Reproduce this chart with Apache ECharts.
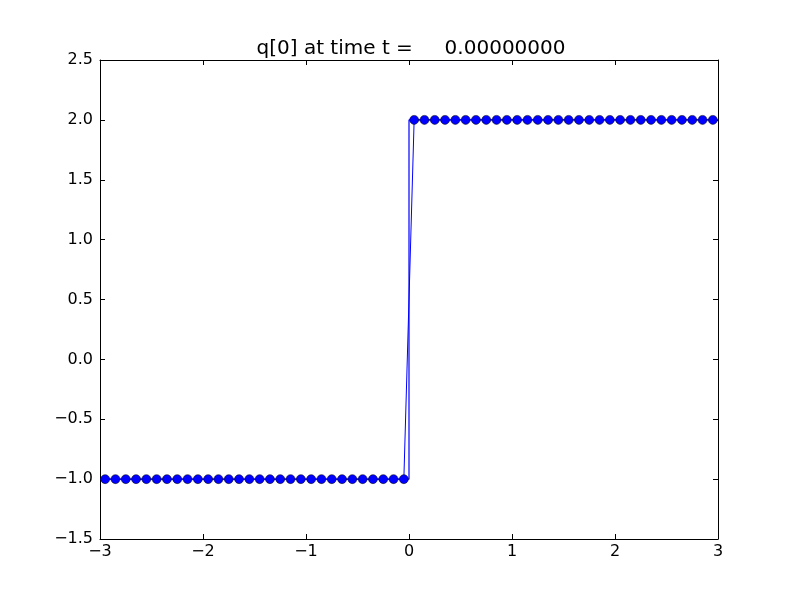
<!DOCTYPE html>
<html><head><meta charset="utf-8">
<script src="https://cdn.jsdelivr.net/npm/echarts@6/dist/echarts.min.js"></script>
<style>html,body{margin:0;padding:0;background:#fff}#c{width:800px;height:600px}</style>
</head><body><div id="c"></div>
<script>
const titleText = 'q[0] at time t =     0.00000000';
const xCells = [-2.95,-2.85,-2.75,-2.65,-2.55,-2.45,-2.35,-2.25,-2.15,-2.05,
  -1.95,-1.85,-1.75,-1.65,-1.55,-1.45,-1.35,-1.25,-1.15,-1.05,
  -0.95,-0.85,-0.75,-0.65,-0.55,-0.45,-0.35,-0.25,-0.15,-0.05,
  0.05,0.15,0.25,0.35,0.45,0.55,0.65,0.75,0.85,0.95,
  1.05,1.15,1.25,1.35,1.45,1.55,1.65,1.75,1.85,1.95,
  2.05,2.15,2.25,2.35,2.45,2.55,2.65,2.75,2.85,2.95];
const qValues = [-1,-1,-1,-1,-1,-1,-1,-1,-1,-1,
  -1,-1,-1,-1,-1,-1,-1,-1,-1,-1,
  -1,-1,-1,-1,-1,-1,-1,-1,-1,-1,
  2,2,2,2,2,2,2,2,2,2,
  2,2,2,2,2,2,2,2,2,2,
  2,2,2,2,2,2,2,2,2,2];
const trueX = [-3, 0, 0, 3];
const trueY = [-1, -1, 2, 2];
const xTicks = [-3,-2,-1,0,1,2,3];
const yTicks = [-1.5,-1.0,-0.5,0.0,0.5,1.0,1.5,2.0,2.5];

const fmt = v => String(v).replace('-', '\u2212');
const fmtY = v => (v < 0 ? '\u2212' : '') + Math.abs(v).toFixed(1);
const font = 'DejaVu Sans';
const axisCommon = {
  axisLine: {show: true, onZero: false, lineStyle: {color: '#000', width: 1}},
  axisTick: {show: true, inside: true, length: 5, lineStyle: {color: '#000'}},
  splitLine: {show: false}
};
const chart = echarts.init(document.getElementById('c'), null, {renderer: 'canvas'});
chart.setOption({
  animation: false,
  textStyle: {fontFamily: font},
  title: {text: titleText, left: 406, top: 34, textAlign: 'center',
    textStyle: {fontFamily: font, fontSize: 20, fontWeight: 'normal', color: '#000'}},
  grid: {left: 100, right: 82, top: 60, bottom: 61},
  xAxis: [
    Object.assign({type: 'value', min: -3, max: 3, interval: 1, position: 'bottom',
      axisLabel: {fontFamily: font, fontSize: 16, color: '#000', margin: 5, formatter: fmt}}, axisCommon),
    Object.assign({type: 'value', min: -3, max: 3, interval: 1, position: 'top',
      axisLabel: {show: false}}, axisCommon)
  ],
  yAxis: [
    Object.assign({type: 'value', min: -1.5, max: 2.5, interval: 0.5, position: 'left',
      axisLabel: {fontFamily: font, fontSize: 16, color: '#000', margin: 7, formatter: fmtY}}, axisCommon),
    Object.assign({type: 'value', min: -1.5, max: 2.5, interval: 0.5, position: 'right',
      axisLabel: {show: false}}, axisCommon)
  ],
  series: [
    {type: 'line', data: trueX.map((x, i) => [x, trueY[i]]), showSymbol: false, symbol: 'none',
      lineStyle: {color: '#0000ff', width: 1.2}, z: 2},
    {type: 'line', data: xCells.map((x, i) => [x, qValues[i]]), symbol: 'circle', symbolSize: 9,
      itemStyle: {color: '#0000ff', borderColor: '#000', borderWidth: 0.5},
      lineStyle: {color: '#0000ff', width: 1}, z: 3}
  ]
});
</script></body></html>
